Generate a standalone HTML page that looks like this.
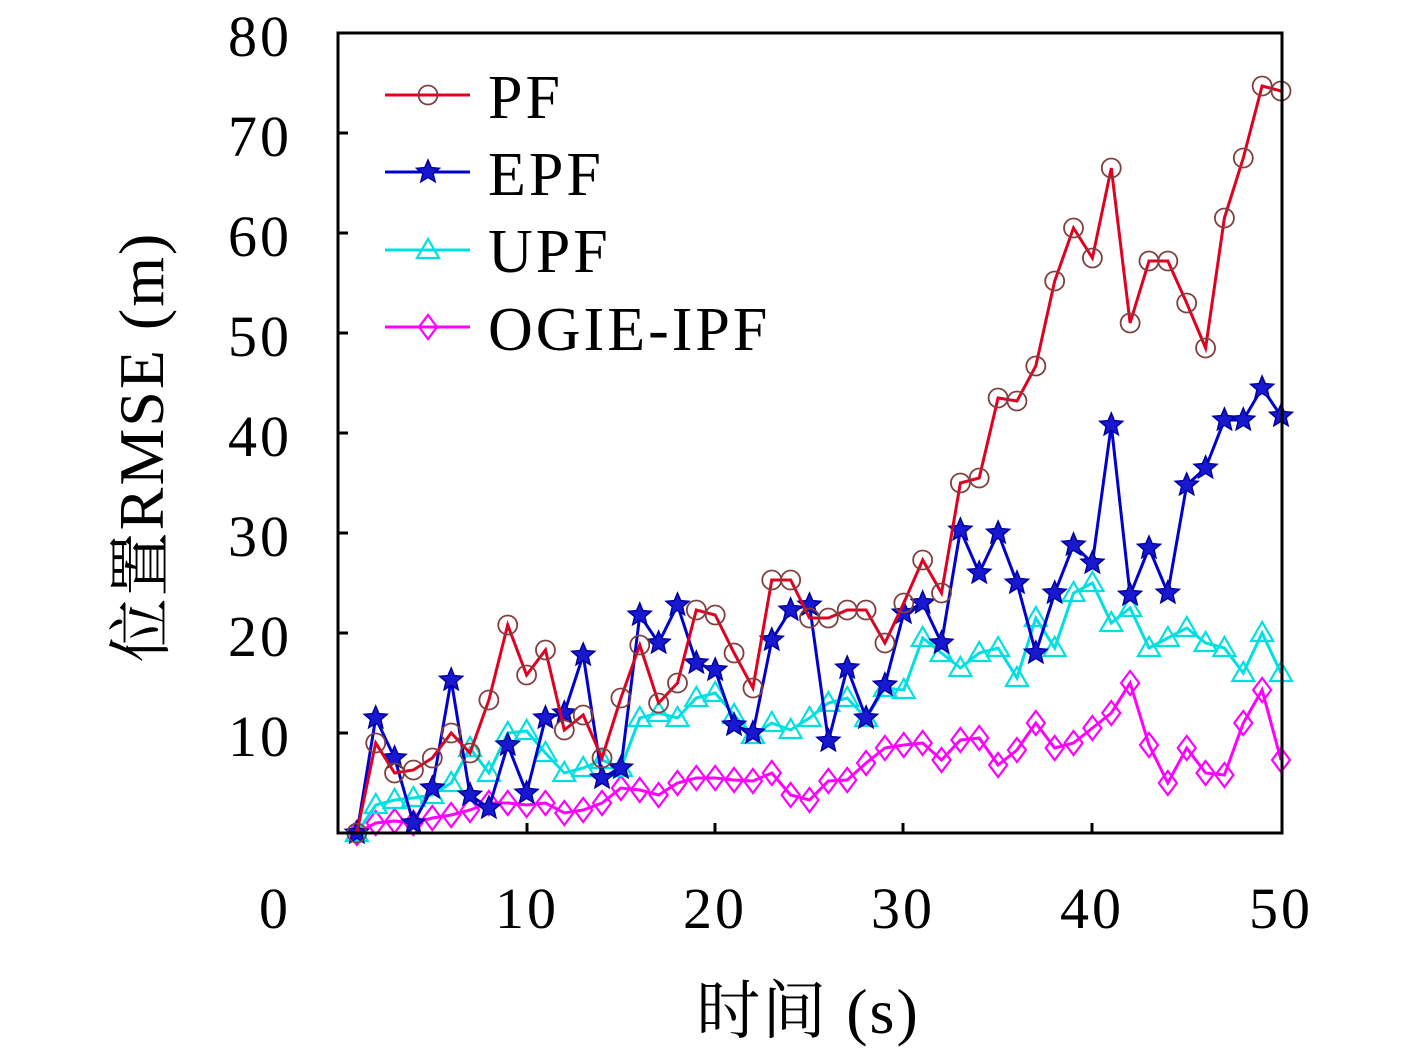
<!DOCTYPE html>
<html><head><meta charset="utf-8"><style>
body{margin:0;background:#fff}
svg text{font-family:"Liberation Serif","Noto Serif CJK SC",serif;fill:#000}
</style></head><body>
<svg id="s" width="1417" height="1050" xmlns="http://www.w3.org/2000/svg">
<rect width="1417" height="1050" fill="#fff"/>
<g id="plot"></g>
<rect x="338" y="33" width="944" height="800" fill="none" stroke="#000" stroke-width="3"/>
<g font-size="58" text-anchor="end" letter-spacing="3">
<text x="292" y="56">80</text><text x="292" y="156">70</text><text x="292" y="256">60</text>
<text x="292" y="356">50</text><text x="292" y="456">40</text><text x="292" y="556">30</text>
<text x="292" y="656">20</text><text x="292" y="756">10</text>
</g>
<g font-size="58" text-anchor="middle" letter-spacing="3">
<text x="275" y="928">0</text><text x="527" y="928">10</text><text x="715" y="928">20</text>
<text x="903" y="928">30</text><text x="1092" y="928">40</text><text x="1281" y="928">50</text>
</g>
<text x="808" y="1033" font-size="64" text-anchor="middle" letter-spacing="2">时间 (s)</text>
<text font-size="64" text-anchor="middle" letter-spacing="2" transform="translate(163,447) rotate(-90)">位置RMSE (m)</text>
<g font-size="62" letter-spacing="3">
<text x="488" y="118">PF</text><text x="488" y="195">EPF</text>
<text x="488" y="272">UPF</text><text x="488" y="350">OGIE-IPF</text>
</g>
<g id="leg"></g>
</svg>
<script>
const X=t=>338+18.86*t, Y=v=>833-10*v;
const PF=[0,9,6,6.3,7.5,10,8,13.3,20.8,15.8,18.3,10.3,11.8,7.5,13.5,18.8,13,15,22.3,21.8,18,14.5,25.3,25.3,21.5,21.5,22.3,22.3,19,23,27.3,24,35,35.5,43.5,43.2,46.7,55.2,60.5,57.5,66.5,51,57.2,57.2,53,48.5,61.5,67.5,74.7,74.2];
const EPF=[0,11.5,7.5,1,4.5,15.3,3.8,2.5,8.8,4,11.5,12,17.8,5.5,6.5,21.8,19,22.8,17,16.3,10.8,10,19.3,22.3,22.8,9.2,16.5,11.5,14.8,22,23,19,30.3,26,30,25,18,24,28.8,27,40.8,23.8,28.5,24,34.8,36.5,41.3,41.3,44.5,41.7];
const UPF=[0,2.8,3.3,3.5,3.8,5,8.5,6,10,10.2,8,6,6.5,7.3,6.5,11.5,12,11.5,13.5,14,11.8,9.8,11,10.3,11.5,13,13.5,11.5,14.5,14.3,19.5,18,16.5,18,18.5,15.5,21.5,18.5,24,25,21,22.5,18.5,19.5,20.5,19,18.5,16,20,16];
const OG=[0,1,1.2,1,1.5,1.8,2.3,3,3,2.8,3,2,2.3,3,4.5,4.3,3.8,5,5.5,5.5,5.3,5.2,6,3.8,3.3,5.2,5.3,7,8.5,8.8,9,7.3,9.3,9.5,6.8,8.3,11,8.5,9,10.5,12,15,8.8,5,8.5,6,5.8,11,14.3,7.3];
function star(x,y,r){let p=[];for(let i=0;i<10;i++){const a=-Math.PI/2+i*Math.PI/5,rr=i%2?r*0.45:r;p.push((x+rr*Math.cos(a)).toFixed(1)+','+(y+rr*Math.sin(a)).toFixed(1));}return `<polygon points="${p.join(' ')}" fill="#1818d0" stroke="#0000a0" stroke-width="1.5"/>`;}
function mk(type,x,y,col){
 if(type=='o')return `<circle cx="${x}" cy="${y}" r="9.5" fill="none" stroke="#804040" stroke-width="1.8"/>`;
 if(type=='*')return star(x,y,12);
 if(type=='^')return `<polygon points="${x},${y-11} ${x-11},${y+8} ${x+11},${y+8}" fill="none" stroke="${col}" stroke-width="2.2"/>`;
 return `<polygon points="${x},${y-12} ${x+9},${y} ${x},${y+12} ${x-9},${y}" fill="none" stroke="${col}" stroke-width="2.2"/>`;
}
let h='';
function series(d,col,type){
 let pts=d.map((v,i)=>X(i+1).toFixed(1)+','+Y(v).toFixed(1)).join(' ');
 h+=`<polyline points="${pts}" fill="none" stroke="${col}" stroke-width="3"/>`;
 d.forEach((v,i)=>h+=mk(type,X(i+1),Y(v),col));
}
series(OG,'#ff00ff','d');series(UPF,'#00e0e0','^');series(EPF,'#0000d0','*');series(PF,'#e00020','o');
[527,715,903,1092].forEach(x=>h+=`<line x1="${x}" y1="833" x2="${x}" y2="823" stroke="#000" stroke-width="3"/>`);
for(let v=10;v<=70;v+=10)h+=`<line x1="338" y1="${Y(v)}" x2="348" y2="${Y(v)}" stroke="#000" stroke-width="3"/>`;
document.getElementById('plot').innerHTML=h;
let l='';
[['#e00020','o',95],['#0000d0','*',172],['#00e0e0','^',250],['#ff00ff','d',327]].forEach(([c,t,y])=>{
 l+=`<line x1="385" y1="${y}" x2="470" y2="${y}" stroke="${c}" stroke-width="3"/>`+mk(t,428,y,c);
});
document.getElementById('leg').innerHTML=l;
</script>
</body></html>
